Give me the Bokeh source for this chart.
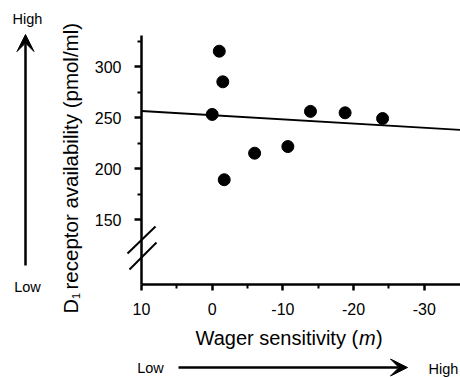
import numpy as np
from bokeh.plotting import figure
from bokeh.models import Range1d, FixedTicker, Label, Arrow, VeeHead
from bokeh.embed import file_html
from bokeh.resources import INLINE

# ---- data ----
wager_sensitivity = [-1.0, -1.5, 0.0, -1.7, -6.0, -10.7, -13.9, -18.8, -24.1]
d1_availability = [315, 285, 253, 189, 215, 221.5, 256, 254.6, 249]
x_ticks = [10, 0, -10, -20, -30]
x_minor = [5, -5, -15, -25]
y_ticks = [150, 200, 250, 300]
y_minor = [175, 225, 275, 325]

FONT = "Liberation Sans"
W, H = 460, 377

# pixel calibration of the plotting area
KX = 7.07   # px per x unit
KY = 1.02   # px per y unit
X_REF, PX_REF = 10, 141
Y_REF, PY_REF = 300, 66


def px2x(px):
    return X_REF - (px - PX_REF) / KX


def px2y(py):
    return Y_REF - (py - PY_REF) / KY


X_LEFT, X_RIGHT = px2x(0), px2x(W)
Y_TOP, Y_BOTTOM = px2y(0), px2y(H)
AXIS_Y = px2y(283.5)   # y value where x axis sits
AXIS_TOP = px2y(35)
AXIS_X = 10

p = figure(width=W, height=H, output_backend="svg", toolbar_location=None,
           x_range=Range1d(X_LEFT, X_RIGHT), y_range=Range1d(Y_BOTTOM, Y_TOP),
           min_border=0)
p.outline_line_color = None
p.grid.visible = False
p.background_fill_color = "white"
p.border_fill_color = "white"

for ax in (p.xaxis[0], p.yaxis[0]):
    ax.axis_line_width = 2.5
    ax.axis_line_color = "black"
    ax.major_tick_line_width = 2.5
    ax.minor_tick_line_width = 2
    ax.major_tick_line_color = "black"
    ax.minor_tick_line_color = "black"
    ax.major_tick_in = 0
    ax.minor_tick_in = 0
    ax.major_label_text_font = FONT
    ax.major_label_text_font_size = "16px"
    ax.major_label_text_color = "black"

p.xaxis.ticker = FixedTicker(ticks=x_ticks, minor_ticks=x_minor)
p.yaxis.ticker = FixedTicker(ticks=y_ticks, minor_ticks=y_minor)
p.xaxis.major_label_overrides = {t: str(t) for t in x_ticks}
p.xaxis.fixed_location = AXIS_Y
p.xaxis.bounds = (X_RIGHT, AXIS_X)
p.yaxis.fixed_location = AXIS_X
p.yaxis.bounds = (AXIS_Y, AXIS_TOP)
p.xaxis.major_tick_out = 6
p.xaxis.minor_tick_out = 4
p.yaxis.major_tick_out = 7
p.yaxis.minor_tick_out = 4
p.xaxis.major_label_standoff = 13
p.yaxis.major_label_standoff = 13

# regression line
slope, intercept = np.polyfit(wager_sensitivity, d1_availability, 1)
lx = np.array([AXIS_X, X_RIGHT])
p.line(lx, slope * lx + intercept, line_width=1.8, color="black")

p.scatter(wager_sensitivity, d1_availability, size=12, color="black")

# axis break marks
for (a, b, c, d) in [(127, 253, 155, 226), (129, 269, 156, 242)]:
    p.add_layout(Arrow(end=None, x_start=px2x(a), y_start=px2y(b),
                       x_end=px2x(c), y_end=px2y(d),
                       line_width=2, line_color="black"))

# direction arrows
p.add_layout(Arrow(end=VeeHead(size=17, fill_color="black", line_color="black"),
                   x_start=px2x(25), y_start=px2y(265), x_end=px2x(25), y_end=px2y(34),
                   line_width=2.5, line_color="black"))
p.add_layout(Arrow(end=VeeHead(size=17, fill_color="black", line_color="black"),
                   x_start=px2x(178), y_start=px2y(367), x_end=px2x(407), y_end=px2y(367),
                   line_width=2.5, line_color="black"))


def lab(txt, px, py, size="14.5px", align="center", baseline="middle", angle=0, style="normal"):
    p.add_layout(Label(x=px2x(px), y=px2y(py), text=txt, text_font=FONT,
                       text_font_size=size, text_align=align, text_baseline=baseline,
                       angle=angle, text_font_style=style, text_color="black"))


lab("High", 27, 18)
lab("Low", 27, 286)
lab("Low", 150, 367)
lab("High", 443, 368)

# x title
lab("Wager sensitivity (", 195, 337, size="20px", align="left")
lab("m", 358.5, 337, size="20px", align="left", style="italic")
lab(")", 375.5, 337, size="20px", align="left")

# y title (rotated)
lab("D", 70, 313, size="20px", align="left", angle=np.pi / 2)
lab("1", 75.5, 298.5, size="11px", align="left", angle=np.pi / 2)
lab("receptor availability (pmol/ml)", 70, 289, size="20.5px", align="left",
    angle=np.pi / 2)

open("out.html", "w").write(file_html(p, INLINE))
